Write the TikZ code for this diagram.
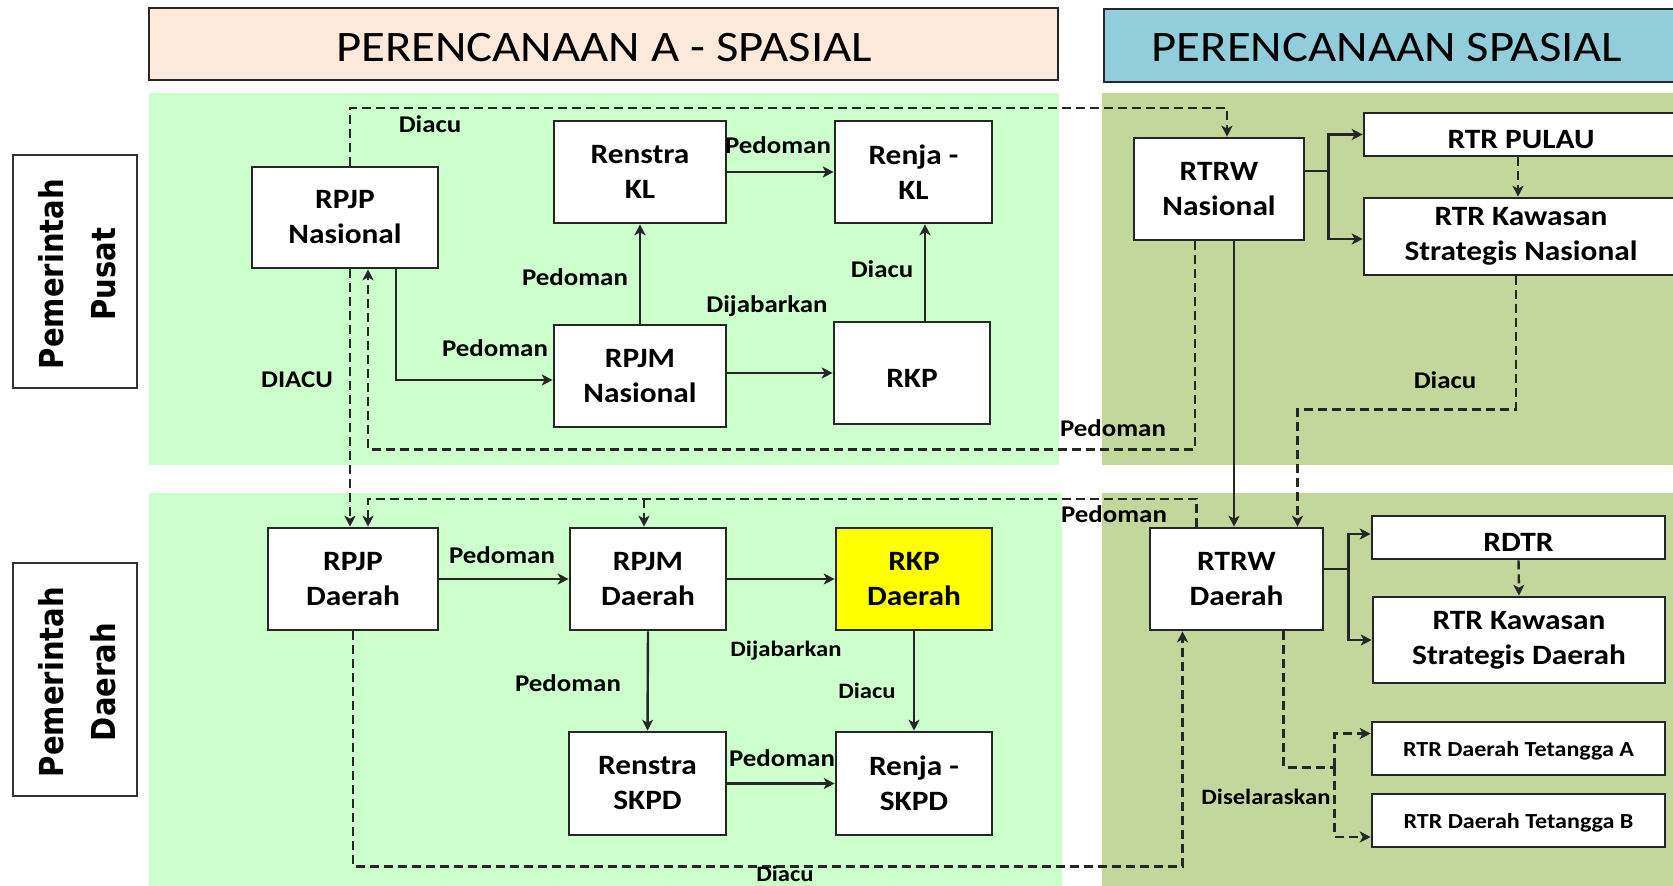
\documentclass[tikz,border=0pt]{standalone}
\usepackage{fontspec}
\setmainfont{Carlito}[FakeStretch=1.12]
\newfontfamily\rowfont{DejaVu Sans}[FakeStretch=0.88]
\usetikzlibrary{arrows.meta,calc}
\definecolor{peach}{RGB}{253,233,217}
\definecolor{skyb}{RGB}{146,205,220}
\definecolor{lgreen}{RGB}{204,255,204}
\definecolor{olive}{RGB}{195,214,155}
\definecolor{yel}{RGB}{255,255,0}
\begin{document}
\begin{tikzpicture}[x=1pt,y=-1pt,
  box/.style={draw=black!85, line width=2.6pt, fill=white, align=center, inner sep=0pt, font=\bfseries\fontsize{28}{35}\selectfont, execute at begin node={\rule{0pt}{28pt}}},
  sbox/.style={draw=black!85, line width=2.6pt, fill=white, align=center, inner sep=0pt, font=\bfseries\fontsize{21.5}{26}\selectfont, execute at begin node={\rule{0pt}{20pt}}},
  lbl/.style={inner sep=0pt, font=\bfseries\fontsize{24}{28}\selectfont},
  slbl/.style={inner sep=0pt, font=\bfseries\fontsize{22}{26}\selectfont},
  con/.style={line width=2.4pt, draw=black!85},
  arr/.style={con, -{Stealth[length=11pt,width=11pt,inset=3pt]}},
  dsh/.style={con, dash pattern=on 9pt off 5pt},
  darr/.style={arr, dash pattern=on 9pt off 5pt},
  hdr/.style={draw=black!85, line width=2.8pt, inner sep=0pt},
  hdrtxt/.style={inner sep=0pt, font=\fontsize{43.5}{50}\selectfont},
  rowbox/.style={draw=black!80, line width=2.8pt, fill=white, inner sep=0pt, minimum width=124, minimum height=233},
  rowtxt/.style={rotate=90, align=center, inner sep=0pt, font=\rowfont\bfseries\fontsize{33}{52}\selectfont}
]
\useasboundingbox (0,0) rectangle (1673,886);
% panels
\fill[lgreen] (149,93) rectangle (1059,465);
\fill[olive] (1102,93) rectangle (1680,465);
\fill[lgreen] (149,493) rectangle (1062,890);
\fill[olive] (1102,493) rectangle (1680,890);
% headers
\node[hdr, fill=peach, minimum width=909, minimum height=72] (hA) at (603.5,44) {};
\node[hdrtxt] (hAt) at (604,48) {PERENCANAAN A - SPASIAL};
\node[hdr, fill=skyb, minimum width=586, minimum height=73] (hS) at (1397,45.5) {};
\node[hdrtxt] (hSt) at (1387,48) {PERENCANAAN SPASIAL};
% row labels
\node[rowbox] (rowP) at (75,271.5) {};
\node[rowtxt] (rowPt) at (77,274) {Pemerintah\\Pusat};
\node[rowbox] (rowD) at (75,679.5) {};
\node[rowtxt] (rowDt) at (77,682) {Pemerintah\\Daerah};
% top nodes
\node[box, minimum width=186, minimum height=101] (rpjpN) at (345,217.5) {RPJP\\Nasional};
\node[box, minimum width=172, minimum height=102] (renKL) at (640,172) {Renstra\\KL};
\node[box, minimum width=157, minimum height=102] (renjaKL) at (913.5,172) {Renja -\\KL};
\node[box, minimum width=172, minimum height=102] (rpjmN) at (640,376) {RPJM\\Nasional};
\node[box, minimum width=156, minimum height=102] (rkp) at (912,373) {RKP};
\node[box, minimum width=170, minimum height=102] (rtrwN) at (1219,189) {RTRW\\Nasional};
\node[box, minimum width=314, minimum height=43] (rtrP) at (1521,134.5) {RTR PULAU};
\node[box, minimum width=314, minimum height=77] (rtrKSN) at (1521,236.5) {RTR Kawasan\\Strategis Nasional};
% bottom nodes
\node[box, minimum width=170, minimum height=102] (rpjpD) at (353,579) {RPJP\\Daerah};
\node[box, minimum width=156, minimum height=102] (rpjmD) at (648,579) {RPJM\\Daerah};
\node[box, fill=yel, minimum width=156, minimum height=102] (rkpD) at (914,579) {RKP\\Daerah};
\node[box, minimum width=157, minimum height=103] (renSKPD) at (647.5,783.5) {Renstra\\SKPD};
\node[box, minimum width=156, minimum height=103] (renjaSKPD) at (914,783.5) {Renja -\\SKPD};
\node[box, minimum width=173, minimum height=102] (rtrwD) at (1236.5,579) {RTRW\\Daerah};
\node[box, minimum width=293, minimum height=43] (rdtr) at (1518.5,537.5) {RDTR};
\node[box, minimum width=292, minimum height=86] (rtrKSD) at (1519,640) {RTR Kawasan\\Strategis Daerah};
\node[sbox, minimum width=293, minimum height=53] (tetA) at (1518.5,748.5) {RTR Daerah Tetangga A};
\node[sbox, minimum width=293, minimum height=53] (tetB) at (1518.5,820.5) {RTR Daerah Tetangga B};
% top connectors
\draw[arr] (renKL.east) -- (renjaKL.west);
\node[lbl] (l1) at (778,145) {Pedoman};
\draw[arr] ([xshift=13pt]rkp.north) -- ([xshift=13pt]rkp.north |- renjaKL.south);
\node[lbl] (l2) at (882,269) {Diacu};
\draw[arr] (rpjmN.north) -- (renKL.south);
\node[lbl] (l3) at (575,277) {Pedoman};
\draw[arr] (rkp.west -| rpjmN.east) -- (rkp.west);
\node[lbl] (l4) at (767,306) {Dijabarkan};
\draw[arr] ([xshift=51pt]rpjpN.south) |- ([yshift=-4pt]rpjmN.west);
\node[lbl] (l5) at (495,348) {Pedoman};
\draw[darr] ([xshift=5pt]rpjpN.north) -- ++(0,-58) -| ([xshift=8pt]rtrwN.north);
\node[lbl] (l6) at (430,124) {Diacu};
\draw[darr] ([xshift=5pt]rpjpN.south) -- ([xshift=5pt]rpjpN.south |- rpjpD.north);
\node[lbl] (l7) at (297,380) {DIACU};
\draw[darr] ([xshift=-24pt]rtrwN.south) -- ++(0,208) -| ([xshift=23pt]rpjpN.south);
\node[lbl] (l8) at (1113,428) {Pedoman};
\draw[arr] ([xshift=15pt]rtrwN.south) -- ([xshift=15pt]rtrwN.south |- rtrwD.north);
\draw[darr] ([xshift=-5pt]rtrKSN.south) -- ++(0,133) -| ([xshift=61pt]rtrwD.north);
\node[lbl] (l9) at (1445,380) {Diacu};
\draw[con] ([yshift=18pt]rtrwN.east) -- ++(23,0) coordinate (b1);
\draw[arr] (b1) |- (rtrP.west);
\draw[arr] (b1) |- ([yshift=-2.5pt]rtrKSN.west);
\draw[darr] ([xshift=-3pt]rtrP.south) -- ([xshift=-3pt]rtrP.south |- rtrKSN.north);
% bottom connectors
\draw[arr] (rpjpD.east) -- (rpjmD.west);
\node[lbl] (m1) at (502,555) {Pedoman};
\draw[arr] (rpjmD.east) -- (rkpD.west);
\node[slbl] (m2) at (786,651) {Dijabarkan};
\draw[arr] (rpjmD.south) -- (renSKPD.north);
\node[lbl] (m3) at (568,683) {Pedoman};
\draw[arr] (rkpD.south) -- (renjaSKPD.north);
\node[slbl] (m4) at (867,691) {Diacu};
\draw[arr] (renSKPD.east) -- (renjaSKPD.west);
\node[lbl] (m5) at (782,758) {Pedoman};
\draw[darr] ([xshift=-40pt]rtrwD.north) -- ++(0,-28) -| ([xshift=15pt]rpjpD.north);
\coordinate (td) at ([yshift=28pt]rpjmD.north);
\draw[darr] ([xshift=-4pt]td) -- ([xshift=-4pt]rpjmD.north);
\node[lbl] (m6) at (1114,514) {Pedoman};
\draw[darr] (rpjpD.south) -- ++(0,235) -| ([xshift=-54pt]rtrwD.south);
\node[slbl] (m7) at (785,874) {Diacu};
\draw[con] ([yshift=10pt]rtrwD.east) -- ++(24,0) coordinate (b2);
\draw[arr] (b2) |- ([yshift=3.5pt]rdtr.west);
\draw[arr] (b2) |- (rtrKSD.west);
\draw[darr] (rdtr.south) -- (rtrKSD.north);
\draw[dsh] ([xshift=47pt]rtrwD.south) -- ++(0,136) -- ++(51,0) coordinate (j1);
\draw[darr] (j1) |- ([yshift=15pt]tetA.west);
\draw[darr] (j1) |- ([yshift=-16.5pt]tetB.west);
\node[slbl] (m8) at (1266,797) {Diselaraskan};
\end{tikzpicture}
\end{document}
